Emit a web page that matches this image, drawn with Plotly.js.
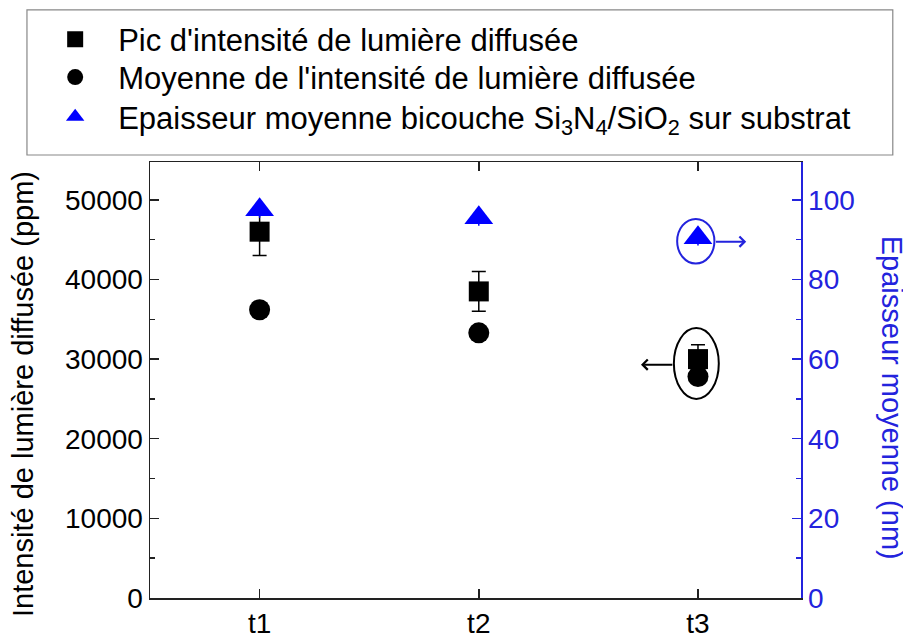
<!DOCTYPE html>
<html>
<head>
<meta charset="utf-8">
<script src="https://cdn.plot.ly/plotly-3.0.1.min.js"></script>
<style>html,body{margin:0;padding:0;background:#fff;}#chart{width:903px;height:634px;}</style>
</head>
<body>
<div id="chart"></div>
<script>
// ---- data ----
const categories = ['t1', 't2', 't3'];
const peakIntensity = [46000, 38500, 30000];      // ppm
const peakError = [3000, 2500, 1800];
const meanIntensity = [36200, 33300, 27800];      // ppm
const thickness = [97.5, 95.5, 90.5];             // nm
const thicknessError = [2, 2, 2];
const seriesNames = [
  "Pic d'intensité de lumière diffusée",
  "Moyenne de l'intensité de lumière diffusée",
  "Epaisseur moyenne bicouche Si<sub>3</sub>N<sub>4</sub>/SiO<sub>2</sub> sur substrat"
];
const leftTitle = "Intensité de lumière diffusée (ppm)";
const rightTitle = "Epaisseur moyenne (nm)";

const FONT = 'Liberation Sans, Arial, sans-serif';
const BLUE = '#0000ff';
const AXBLUE = '#2323dd';

const traces = [
  {
    x: categories, y: peakIntensity, name: seriesNames[0], type: 'scatter', mode: 'markers',
    marker: {symbol: 'square', size: 20, color: '#000'},
    error_y: {type: 'data', array: peakError, visible: true, color: '#000', thickness: 1.5, width: 7},
    legend: 'legend'
  },
  {
    x: categories, y: meanIntensity, name: seriesNames[1], type: 'scatter', mode: 'markers',
    marker: {symbol: 'circle', size: 21, color: '#000'},
    legend: 'legend2'
  },
  {
    x: categories, y: thickness, name: seriesNames[2], type: 'scatter', mode: 'markers', yaxis: 'y2',
    marker: {symbol: 'triangle-up', size: 25, color: BLUE},
    error_y: {type: 'data', array: thicknessError, visible: true, color: BLUE, thickness: 1.5, width: 0},
    legend: 'legend3'
  }
];

const i3 = 2; // index of t3
const legendCommon = {
  xanchor: 'left', yanchor: 'middle', bgcolor: 'rgba(0,0,0,0)', borderwidth: 0,
  itemwidth: 76, font: {family: FONT, size: 31, color: '#000'}
};

const layout = {
  width: 903, height: 634,
  margin: {l: 150, r: 102, t: 160, b: 36},
  paper_bgcolor: '#fff', plot_bgcolor: '#fff',
  font: {family: FONT, size: 28, color: '#000'},
  showlegend: true,
  legend: Object.assign({x: -0.181, y: 1.281}, legendCommon),
  legend2: Object.assign({x: -0.181, y: 1.194}, legendCommon),
  legend3: Object.assign({x: -0.181, y: 1.103}, legendCommon),
  xaxis: {
    type: 'category', categoryarray: categories, range: [-0.5, 2.47],
    showline: true, linecolor: '#222', linewidth: 1.5, mirror: 'ticks',
    ticks: 'inside', ticklen: 9, tickwidth: 1.5, tickcolor: '#222',
    showgrid: false, zeroline: false,
    tickfont: {family: FONT, size: 28, color: '#000'}
  },
  yaxis: {
    range: [0, 54750], dtick: 10000, tick0: 0,
    showline: true, linecolor: '#222', linewidth: 1.5,
    ticks: 'inside', ticklen: 9, tickwidth: 1.5, tickcolor: '#222',
    minor: {dtick: 5000, ticks: 'inside', ticklen: 5, tickwidth: 1.5, tickcolor: '#222', showgrid: false},
    showgrid: false, zeroline: false, tickformat: 'd',
    tickfont: {family: FONT, size: 28, color: '#000'}
  },
  yaxis2: {
    overlaying: 'y', side: 'right', range: [0, 109.5], dtick: 20, tick0: 0,
    showline: true, linecolor: AXBLUE, linewidth: 1.5,
    ticks: 'inside', ticklen: 9, tickwidth: 1.5, tickcolor: AXBLUE,
    minor: {dtick: 10, ticks: 'inside', ticklen: 5, tickwidth: 1.5, tickcolor: AXBLUE, showgrid: false},
    showgrid: false, zeroline: false,
    tickfont: {family: FONT, size: 28, color: AXBLUE}
  },
  shapes: [
    // legend box
    {type: 'rect', xref: 'paper', yref: 'paper', x0: -0.189, x1: 1.141, y0: 1.016, y1: 1.349,
     line: {color: '#888', width: 1.2}, fillcolor: 'rgba(0,0,0,0)', layer: 'below'},
    // blue ellipse around t3 thickness
    {type: 'circle', xref: 'x', yref: 'y2', x0: i3 - 0.095, x1: i3 + 0.075,
     y0: thickness[i3] - 6.5, y1: thickness[i3] + 4.7, line: {color: AXBLUE, width: 2}},
    // black ellipse around t3 intensities
    {type: 'circle', xref: 'x', yref: 'y', x0: i3 - 0.11, x1: i3 + 0.095,
     y0: meanIntensity[i3] - 2800, y1: peakIntensity[i3] + 3900, line: {color: '#000', width: 2}}
  ],
  annotations: [
    {xref: 'paper', yref: 'paper', x: -0.195, y: 0.468, text: leftTitle, textangle: -90,
     showarrow: false, font: {family: FONT, size: 29, color: '#000'}, xanchor: 'center', yanchor: 'middle'},
    {xref: 'paper', yref: 'paper', x: 1.14, y: 0.459, text: rightTitle, textangle: 90,
     showarrow: false, font: {family: FONT, size: 29, color: AXBLUE}, xanchor: 'center', yanchor: 'middle'},
    // arrow to right axis
    {xref: 'x', yref: 'y2', x: i3 + 0.22, y: thickness[i3] - 1, axref: 'x', ayref: 'y2',
     ax: i3 + 0.075, ay: thickness[i3] - 1, text: '', showarrow: true,
     arrowhead: 4, arrowsize: 1, arrowwidth: 2, arrowcolor: AXBLUE},
    // arrow to left axis
    {xref: 'x', yref: 'y', x: i3 - 0.26, y: 29300, axref: 'x', ayref: 'y',
     ax: i3 - 0.11, ay: 29300, text: '', showarrow: true,
     arrowhead: 4, arrowsize: 1, arrowwidth: 2, arrowcolor: '#000'}
  ]
};

Plotly.newPlot('chart', traces, layout, {displayModeBar: false, staticPlot: true});
</script>
</body>
</html>
